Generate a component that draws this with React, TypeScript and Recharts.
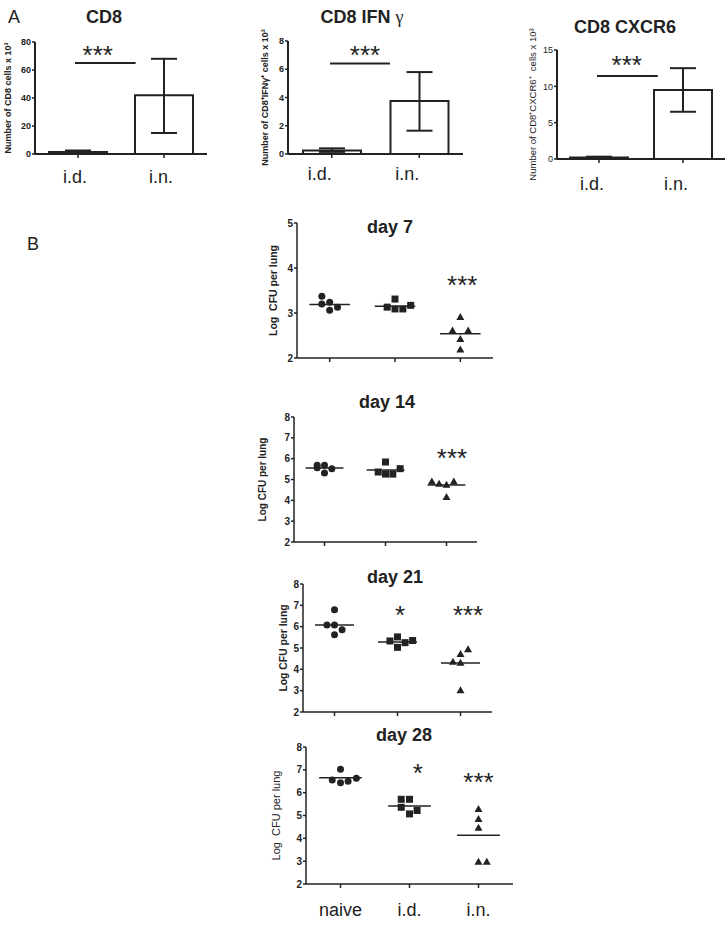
import React from "react";
import {
  Bar,
  ComposedChart,
  ErrorBar,
  ReferenceDot,
  ReferenceLine,
  Scatter,
  XAxis,
  YAxis,
} from "recharts";

const FONT = "'Liberation Sans', Arial, Helvetica, sans-serif";
const INK = "#222";

// ---- A: cell counts per route (mean, [lower, upper] error)
const routes = ["i.d.", "i.n."];

const cd8Mean = [1.5, 42];
const cd8Err = [[0.8, 1.0], [27, 26]];
const cd8Bracket = { from: 0.465, to: 1.17, y: 65 };
const cd8Stars = { x: 0.73, y: 74.3, text: "***" };

const ifnMean = [0.25, 3.75];
const ifnErr = [[0.1, 0.15], [2.1, 2.05]];
const ifnBracket = { from: 0.48, to: 1.166, y: 6.4 };
const ifnStars = { x: 0.88, y: 7.36, text: "***" };

const cxcr6Mean = [0.2, 9.5];
const cxcr6Err = [[0.1, 0.12], [3, 3]];
const cxcr6Bracket = { from: 0.476, to: 1.2, y: 11.42 };
const cxcr6Stars = { x: 0.83, y: 13.6, text: "***" };

// ---- B: Log CFU per lung, 5 mice per group
const groups = ["naive", "i.d.", "i.n."];

const day7Values = [
  [3.37, 3.2, 3.24, 3.06, 3.13],
  [3.31, 3.13, 3.09, 3.09, 3.17],
  [2.91, 2.61, 2.61, 2.42, 2.19],
];
const day7Jitter = [
  [-0.12, -0.12, 0, 0, 0.12],
  [0, -0.12, 0, 0.12, 0.24],
  [0, -0.12, 0.12, 0, 0],
];
const day7Median = [3.19, 3.15, 2.54];
const day7Stars = [{ x: 2.53, y: 3.73, text: "***" }];

const day14Values = [
  [5.57, 5.68, 5.68, 5.31, 5.52],
  [5.84, 5.36, 5.26, 5.26, 5.52],
  [4.9, 4.8, 4.75, 4.9, 4.16],
];
const day14Jitter = [
  [-0.12, -0.12, 0, 0, 0.12],
  [0, -0.12, 0, 0.12, 0.24],
  [-0.24, -0.12, 0, 0.12, 0],
];
const day14Median = [5.55, 5.46, 4.74];
const day14Stars = [{ x: 2.59, y: 6.27, text: "***" }];

const day21Values = [
  [6.79, 6.08, 6.08, 5.85, 5.62],
  [5.52, 5.33, 5.03, 5.25, 5.35],
  [4.94, 4.72, 4.36, 4.31, 3.02],
];
const day21Jitter = [
  [0, -0.12, 0, 0.12, 0],
  [0, -0.12, 0, 0.12, 0.24],
  [0.12, 0, -0.12, 0, 0],
];
const day21Median = [6.08, 5.28, 4.3];
const day21Stars = [
  { x: 1.54, y: 6.78, text: "*" },
  { x: 2.62, y: 6.78, text: "***" },
];

const day28Values = [
  [7.03, 6.56, 6.43, 6.5, 6.63],
  [5.71, 5.71, 5.36, 5.07, 5.22],
  [5.28, 4.85, 4.46, 2.97, 2.97],
];
const day28Jitter = [
  [0, -0.12, 0, 0.11, 0.23],
  [-0.12, 0, -0.12, 0, 0.11],
  [0, 0, 0, 0, 0.12],
];
const day28Median = [6.65, 5.42, 4.14];
const day28Stars = [
  { x: 1.62, y: 7.08, text: "*" },
  { x: 2.5, y: 6.69, text: "***" },
];

// plot boxes on the page (axis origin / extents), not data
type Box = { x0: number; x1: number; y0: number; y1: number; labelX: number };

const starShape = (text: string) => (p: any) => (
  <text x={p.cx} y={p.cy + 14} textAnchor="middle" fontSize={26} fontFamily={FONT} fill={INK}>
    {text}
  </text>
);

const markers = [
  (p: any) => <circle cx={p.cx} cy={p.cy} r={3.5} fill={INK} />,
  (p: any) => <rect x={p.cx - 3.5} y={p.cy - 3.5} width={7} height={7} fill={INK} />,
  (p: any) => (
    <polygon
      points={`${p.cx},${p.cy - 4} ${p.cx + 4},${p.cy + 3} ${p.cx - 4},${p.cy + 3}`}
      fill={INK}
    />
  ),
];

// rotated axis title drawn as one plain <text> so it never wraps
const axisTitle =
  (text: string, x: number, y: number, size: number, bold: boolean) => () => (
    <text
      x={x}
      y={y}
      transform={`rotate(-90 ${x} ${y})`}
      textAnchor="middle"
      dominantBaseline="central"
      fontSize={size}
      fontWeight={bold ? "bold" : "normal"}
      fontFamily={FONT}
      fill={INK}
      style={{ whiteSpace: "pre" }}
    >
      {text}
    </text>
  );

function CountPanel(props: {
  box: Box;
  mean: number[];
  err: number[][];
  yMax: number;
  yTicks: number[];
  yLabel: string;
  bracket: { from: number; to: number; y: number };
  stars: { x: number; y: number; text: string };
  tickBold: boolean;
  nameMargin: number;
  nameDx: number;
}) {
  const { box } = props;
  const yw = 40;
  const mt = 50; // room above the plot for the long rotated axis title
  const mr = 4;
  const xh = 50;
  const left = box.x0 - yw;
  const top = box.y0 - mt;
  const data = routes.map((r, i) => ({ pos: i + 0.5, mean: props.mean[i], err: props.err[i] }));

  return (
    <div style={{ position: "absolute", left, top }}>
      <ComposedChart
        width={box.x1 + mr - left}
        height={box.y1 + xh - top}
        data={data}
        margin={{ top: mt, right: mr, bottom: 0, left: 0 }}
      >
        <XAxis
          type="number"
          dataKey="pos"
          domain={[0, 2]}
          allowDataOverflow
          ticks={[0.5, 1.5]}
          interval={0}
          tickFormatter={(v: number) => routes[Math.floor(v)]}
          height={xh}
          axisLine={{ stroke: INK, strokeWidth: 2 }}
          tickLine={{ stroke: INK, strokeWidth: 1.5 }}
          tickSize={4}
          tickMargin={props.nameMargin}
          tick={{ fontSize: 18, fill: INK, fontFamily: FONT, dx: props.nameDx }}
        />
        <YAxis
          type="number"
          domain={[0, props.yMax]}
          ticks={props.yTicks}
          interval={0}
          width={yw}
          axisLine={{ stroke: INK, strokeWidth: 2 }}
          tickLine={{ stroke: INK, strokeWidth: 1.5 }}
          tickSize={3}
          tickMargin={1}
          tick={{
            fontSize: 9,
            fill: INK,
            fontFamily: FONT,
            fontWeight: props.tickBold ? "bold" : "normal",
          }}
          label={{
            content: axisTitle(
              props.yLabel,
              box.labelX - left,
              (box.y0 + box.y1) / 2 - top,
              props.tickBold ? 9 : 9.5,
              props.tickBold
            ),
          }}
        />
        <Bar
          dataKey="mean"
          barSize={58}
          fill="#fff"
          stroke={INK}
          strokeWidth={2}
          isAnimationActive={false}
        >
          <ErrorBar dataKey="err" width={13} stroke={INK} strokeWidth={2} />
        </Bar>
        <ReferenceLine
          segment={[
            { x: props.bracket.from, y: props.bracket.y },
            { x: props.bracket.to, y: props.bracket.y },
          ]}
          stroke={INK}
          strokeWidth={2}
        />
        <ReferenceDot
          x={props.stars.x}
          y={props.stars.y}
          r={1}
          shape={starShape(props.stars.text)}
        />
      </ComposedChart>
    </div>
  );
}

function CfuPanel(props: {
  box: Box;
  yMax: number;
  yTicks: number[];
  values: number[][];
  jitter: number[][];
  medians: number[];
  stars: { x: number; y: number; text: string }[];
  yLabel: string;
  labelSize: number;
  labelBold: boolean;
  showNames: boolean;
}) {
  const { box } = props;
  const yw = 50;
  const mt = 10;
  const mr = 4;
  const xh = 45;
  const left = box.x0 - yw;
  const top = box.y0 - mt;

  return (
    <div style={{ position: "absolute", left, top }}>
      <ComposedChart
        width={box.x1 + mr - left}
        height={box.y1 + xh - top}
        margin={{ top: mt, right: mr, bottom: 0, left: 0 }}
      >
        <XAxis
          type="number"
          dataKey="x"
          domain={[0, 3]}
          ticks={[0.5, 1.5, 2.5]}
          interval={0}
          height={xh}
          axisLine={{ stroke: INK, strokeWidth: 1.5 }}
          tickLine={{ stroke: INK, strokeWidth: 1.5 }}
          tickSize={4}
          tickMargin={15}
          tickFormatter={(v: number) => (props.showNames ? groups[Math.floor(v)] : "")}
          tick={{ fontSize: 18, fill: INK, fontFamily: FONT }}
        />
        <YAxis
          type="number"
          dataKey="y"
          domain={[2, props.yMax]}
          ticks={props.yTicks}
          interval={0}
          width={yw}
          axisLine={{ stroke: INK, strokeWidth: 1.5 }}
          tickLine={{ stroke: INK, strokeWidth: 1.5 }}
          tickSize={3}
          tickMargin={1}
          tick={{ fontSize: 10, fill: INK, fontFamily: FONT, fontWeight: "bold" }}
          label={{
            content: axisTitle(
              props.yLabel,
              box.labelX - left,
              (box.y0 + box.y1) / 2 - top,
              props.labelSize,
              props.labelBold
            ),
          }}
        />
        {props.values.map((vals, g) => (
          <Scatter
            key={groups[g]}
            name={groups[g]}
            data={vals.map((v, i) => ({ x: g + 0.5 + props.jitter[g][i], y: v }))}
            shape={markers[g]}
            isAnimationActive={false}
          />
        ))}
        {props.medians.map((m, g) => (
          <ReferenceLine
            key={"m" + g}
            segment={[
              { x: g + 0.5 - 0.31, y: m },
              { x: g + 0.5 + 0.31, y: m },
            ]}
            stroke={INK}
            strokeWidth={1.5}
          />
        ))}
        {props.stars.map((s, i) => (
          <ReferenceDot key={"s" + i} x={s.x} y={s.y} r={1} shape={starShape(s.text)} />
        ))}
      </ComposedChart>
    </div>
  );
}

const titleStyle = { fontFamily: FONT, fontSize: 18, fontWeight: "bold" as const, fill: INK };

export default function App() {
  return (
    <div
      style={{
        position: "absolute",
        left: 0,
        top: 0,
        width: 728,
        height: 936,
        background: "#fff",
        overflow: "hidden",
        fontFamily: FONT,
      }}
    >
      <CountPanel
        box={{ x0: 35, x1: 207, y0: 42, y1: 154, labelX: 8 }}
        mean={cd8Mean}
        err={cd8Err}
        yMax={80}
        yTicks={[0, 20, 40, 60, 80]}
        yLabel="Number of CD8 cells x 10³"
        bracket={cd8Bracket}
        stars={cd8Stars}
        tickBold
        nameMargin={12}
        nameDx={-3}
      />
      <CountPanel
        box={{ x0: 288, x1: 463, y0: 41, y1: 154, labelX: 265 }}
        mean={ifnMean}
        err={ifnErr}
        yMax={8}
        yTicks={[0, 2, 4, 6, 8]}
        yLabel="Number of CD8⁺IFNγ⁺ cells x 10³"
        bracket={ifnBracket}
        stars={ifnStars}
        tickBold
        nameMargin={9}
        nameDx={-12}
      />
      <CountPanel
        box={{ x0: 557, x1: 725, y0: 50, y1: 159, labelX: 532 }}
        mean={cxcr6Mean}
        err={cxcr6Err}
        yMax={15}
        yTicks={[0, 5, 10, 15]}
        yLabel="Number of CD8⁺CXCR6⁺  cells x 10³"
        bracket={cxcr6Bracket}
        stars={cxcr6Stars}
        tickBold={false}
        nameMargin={14}
        nameDx={-7}
      />

      <CfuPanel
        box={{ x0: 297, x1: 493, y0: 223, y1: 358, labelX: 273 }}
        yMax={5}
        yTicks={[2, 3, 4, 5]}
        values={day7Values}
        jitter={day7Jitter}
        medians={day7Median}
        stars={day7Stars}
        yLabel="Log  CFU per lung"
        labelSize={10.5}
        labelBold
        showNames={false}
      />
      <CfuPanel
        box={{ x0: 294, x1: 477, y0: 417, y1: 542, labelX: 262 }}
        yMax={8}
        yTicks={[2, 3, 4, 5, 6, 7, 8]}
        values={day14Values}
        jitter={day14Jitter}
        medians={day14Median}
        stars={day14Stars}
        yLabel="Log CFU per lung"
        labelSize={10}
        labelBold
        showNames={false}
      />
      <CfuPanel
        box={{ x0: 303, x1: 492, y0: 584, y1: 712, labelX: 283 }}
        yMax={8}
        yTicks={[2, 3, 4, 5, 6, 7, 8]}
        values={day21Values}
        jitter={day21Jitter}
        medians={day21Median}
        stars={day21Stars}
        yLabel="Log CFU per lung"
        labelSize={10.4}
        labelBold
        showNames={false}
      />
      <CfuPanel
        box={{ x0: 306, x1: 513, y0: 747, y1: 884, labelX: 276 }}
        yMax={8}
        yTicks={[2, 3, 4, 5, 6, 7, 8]}
        values={day28Values}
        jitter={day28Jitter}
        medians={day28Median}
        stars={day28Stars}
        yLabel="Log  CFU per lung"
        labelSize={11}
        labelBold={false}
        showNames
      />

      <svg
        width={728}
        height={936}
        style={{ position: "absolute", left: 0, top: 0, pointerEvents: "none" }}
      >
        <text x={8} y={23} fontFamily={FONT} fontSize={18} fill={INK}>
          A
        </text>
        <text x={27} y={250} fontFamily={FONT} fontSize={18} fill={INK}>
          B
        </text>
        <text x={104} y={23} textAnchor="middle" {...titleStyle}>
          CD8
        </text>
        <text x={362} y={23} textAnchor="middle" {...titleStyle}>
          CD8 IFN{" "}
          <tspan fontFamily="'Liberation Serif', 'DejaVu Serif', serif" fontWeight="normal">
            γ
          </tspan>
        </text>
        <text x={625} y={33} textAnchor="middle" {...titleStyle}>
          CD8 CXCR6
        </text>
        <text x={390} y={233} textAnchor="middle" {...titleStyle}>
          day 7
        </text>
        <text x={387} y={408} textAnchor="middle" {...titleStyle}>
          day 14
        </text>
        <text x={395} y={583} textAnchor="middle" {...titleStyle}>
          day 21
        </text>
        <text x={404} y={741} textAnchor="middle" {...titleStyle}>
          day 28
        </text>
      </svg>
    </div>
  );
}
